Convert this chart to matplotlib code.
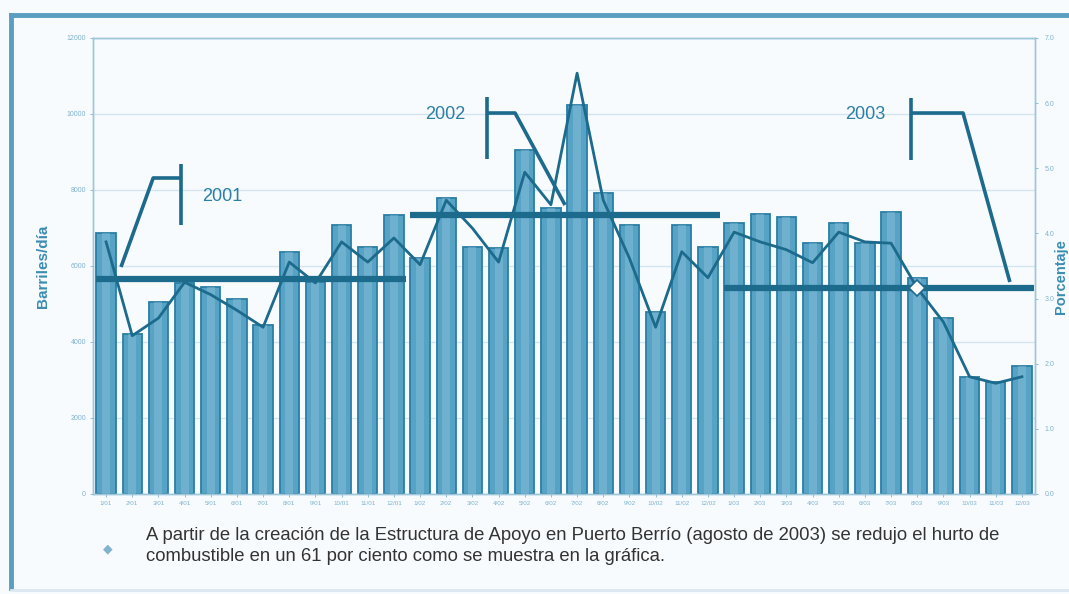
import matplotlib
matplotlib.use("Agg")
import matplotlib.pyplot as plt
from matplotlib.lines import Line2D

plt.rcParams['font.family'] = ['Liberation Sans', 'DejaVu Sans']

# ---- data ----
months = [f"{m}/{y}" for y in ("01", "02", "03") for m in range(1, 13)]
barrels = [6870, 4210, 5050, 5550, 5450, 5130, 4450, 6370, 5580, 7080, 6500, 7340,
           6210, 7790, 6500, 6470, 9050, 7530, 10240, 7920, 7080, 4790, 7080, 6500,
           7130, 7370, 7290, 6600, 7130, 6600, 7420, 5680, 4630, 3080, 2950, 3370]
percent = [3.87, 2.43, 2.70, 3.25, 3.06, 2.82, 2.56, 3.56, 3.24, 3.87, 3.56, 3.93,
           3.52, 4.51, 4.08, 3.56, 4.94, 4.44, 6.46, 4.51, 3.62, 2.56, 3.72, 3.32,
           4.02, 3.87, 3.75, 3.55, 4.02, 3.87, 3.85, 3.16, 2.64, 1.80, 1.70, 1.80]
years = ["2001", "2002", "2003"]
year_means = [5660, 7340, 5420]
left_ticks = [0, 2000, 4000, 6000, 8000, 10000, 12000]
right_ticks = [0.0, 1.0, 2.0, 3.0, 4.0, 5.0, 6.0, 7.0]
marker_month = 31
marker_value = 3.16
caption = ("A partir de la creación de la Estructura de Apoyo en Puerto Berrío (agosto de 2003) se redujo el hurto de\n"
           "combustible en un 61 por ciento como se muestra en la gráfica.")

BG = '#f8fbfd'
TEAL = '#1c6a8c'
BAR = '#56a3c5'
BAR_EDGE = '#2a7ea5'
LIGHT = '#7fb3cf'
GRID = '#d3e6f0'

W, H = 1069, 594
fig = plt.figure(figsize=(W / 100, H / 100), dpi=100, facecolor=BG)

# outer frame
fig.add_artist(Line2D([11 / W, 11 / W], [1 - 15 / H, 6 / H], transform=fig.transFigure,
                      color='#5a9ec0', lw=3.5))
fig.add_artist(Line2D([11 / W, 1.0], [1 - 15 / H, 1 - 15 / H], transform=fig.transFigure,
                      color='#5a9ec0', lw=3.5))
fig.add_artist(Line2D([11 / W, 1.0], [4 / H, 4 / H], transform=fig.transFigure,
                      color='#dbe8f0', lw=2))

ax = fig.add_axes([93 / W, 1 - 494 / H, 942 / W, 456 / H], facecolor=BG)
x = list(range(len(months)))

ax.set_ylim(0, 12000)
ax.set_xlim(-0.5, len(months) - 0.5)
ax.set_yticks(left_ticks)
ax.set_yticklabels([str(t) for t in left_ticks])
for t in left_ticks[1:]:
    ax.axhline(t, color=GRID, lw=1, zorder=0)

ax.bar(x, barrels, width=0.74, color=BAR, edgecolor=BAR_EDGE, linewidth=1.3, zorder=2)
ax.bar(x, barrels, width=0.3, color='#8cc0d9', alpha=0.45, linewidth=0, zorder=2.1)

ax.set_xticks(x)
ax.set_xticklabels(months)
for sp in ax.spines.values():
    sp.set_color('#9cc6da')
    sp.set_linewidth(1)
ax.tick_params(axis='both', colors=LIGHT, labelsize=5, length=2, width=0.6, pad=3)
ax.tick_params(axis='x', labelcolor=LIGHT, labelsize=4.5)
ax.set_ylabel('Barriles/día', color='#3a8db3', fontsize=11, fontweight='bold', labelpad=12)

# yearly mean lines
for i, m in enumerate(year_means):
    ax.plot([i * 12 - 0.38, i * 12 + 11.45], [m, m], color=TEAL, lw=4.5, zorder=4,
            solid_capstyle='butt')

# year annotations (brackets)
ann_style = dict(color=TEAL, lw=2.6, zorder=5, solid_capstyle='butt')
# 2001
ax.plot([2.87, 2.87], [7079, 8684], **ann_style)
ax.plot([2.87, 1.80, 0.57], [8316, 8316, 5974], **ann_style)
ax.text(3.67, 7816, years[0], color='#2a7fa5', fontsize=13, va='center', ha='left', zorder=5)
# 2002
ax.plot([14.56, 14.56], [8816, 10447], **ann_style)
ax.plot([14.56, 15.63, 17.54], [10026, 10026, 7605], **ann_style)
ax.text(12.19, 9974, years[1], color='#2a7fa5', fontsize=13, va='center', ha='left', zorder=5)
# 2003
ax.plot([30.76, 30.76], [8789, 10421], **ann_style)
ax.plot([30.76, 32.75, 34.54], [10026, 10026, 5579], **ann_style)
ax.text(28.24, 9974, years[2], color='#2a7fa5', fontsize=13, va='center', ha='left', zorder=5)

# percentage on right axis
ax2 = ax.twinx()
ax2.set_ylim(0, 7)
ax2.set_yticks(right_ticks)
ax2.set_yticklabels([f"{t:.1f}" for t in right_ticks])
ax2.plot(x, percent, color=TEAL, lw=2.0, zorder=6)
ax2.plot([marker_month], [marker_value], marker='D', ms=8, mfc='white', mec=TEAL,
         mew=1.2, zorder=7)
for sp in ax2.spines.values():
    sp.set_color('#9cc6da')
    sp.set_linewidth(1)
ax2.tick_params(axis='y', colors=LIGHT, labelsize=5, length=2, width=0.6, pad=5)

fig.text(1061 / W, 1 - 277 / H, 'Porcentaje', rotation=90, color='#3a8db3',
         fontsize=10.5, fontweight='bold', ha='center', va='center')

# caption with bullet
fig.text(108 / W, 1 - 549 / H, '◆', color='#7fb3cf', fontsize=9, ha='center',
         va='center', family=['DejaVu Sans'])
fig.text(146 / W, 1 - 546 / H, caption, color='#333333', fontsize=13.3, ha='left',
         va='center', linespacing=1.28)

fig.savefig('out.png', dpi=100, facecolor=BG)
